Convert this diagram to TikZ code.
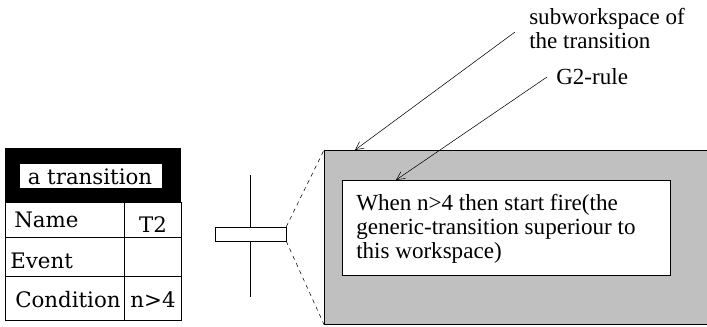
\documentclass[tikz,border=0pt]{standalone}
\usepackage{fontspec}
\setmainfont{Liberation Serif}
\newfontfamily\tabfont{DejaVu Serif}
\usetikzlibrary{arrows.meta, positioning}

\begin{document}
\begin{tikzpicture}[
      x=0.75pt, y=-0.75pt,
      >={Straight Barb[length=6pt, width=6pt]},
      cell/.style={anchor=base west, inner sep=0pt, font=\tabfont\fontsize{16}{19}\selectfont},
      label/.style={anchor=west, inner sep=0pt, align=left, font=\fontsize{17.3}{18}\selectfont},
      rule/.style={draw, fill=white, thin},
      pointer/.style={->, thin}
    ]
    \useasboundingbox (0,0) rectangle (707,326);

    % the transition table
    \fill[black] (5,148) rectangle (181,202);
    \draw[fill=white] (19,163) rectangle (162,188);
    \node[cell, anchor=base] (title) at (90,184) {a transition};
    \draw (5,202) rectangle (181,320);
    \draw (5,237) -- (181,237);
    \draw (5,276) -- (181,276);
    \draw (124,202) -- (124,320);
    \node[cell] (name) at (14,227) {Name};
    \node[cell, anchor=base] (nameval) at (153,232) {T2};
    \node[cell] (event) at (10,268) {Event};
    \node[cell] (cond) at (15,307) {Condition};
    \node[cell, anchor=base] (condval) at (153,307) {n>4};

    % transition symbol
    \draw (250,175) -- (250,297);
    \node[rule, minimum width=71*0.75pt, minimum height=14*0.75pt, inner sep=0pt] (bar) at (250.5,234) {};

    % subworkspace
    \node[draw, fill={rgb,255:red,192;green,192;blue,192}, minimum width=384*0.75pt, minimum height=174*0.75pt,
      inner sep=0pt, anchor=north west] (subws) at (324,150) {};
    \draw[dashed] (bar.north east) -- (subws.north west);
    \draw[dashed] (bar.south east) -- (subws.south west);

    \node[rule, minimum width=328*0.75pt, minimum height=95*0.75pt, inner sep=0pt, anchor=north west] (g2box) at (342,180) {};
    \node[label, anchor=north west] (ruletext) at (356,194) {When n>4 then start fire(the\\ generic-transition superiour to\\ this workspace)};

    % labels and pointers
    \node[label] (sublabel) at (529,28) {subworkspace of\\the transition};
    \node[label] (g2label) at (556,77) {G2-rule};
    \coordinate (subtop) at (355,150);
    \coordinate (g2top) at (396,180);
    \draw[pointer] ([xshift=-14*0.75pt, yshift=-4*0.75pt]sublabel.west) -- (subtop);
    \draw[pointer] ([xshift=-9*0.75pt]g2label.west) -- (g2top);

  \end{tikzpicture}
\end{document}
